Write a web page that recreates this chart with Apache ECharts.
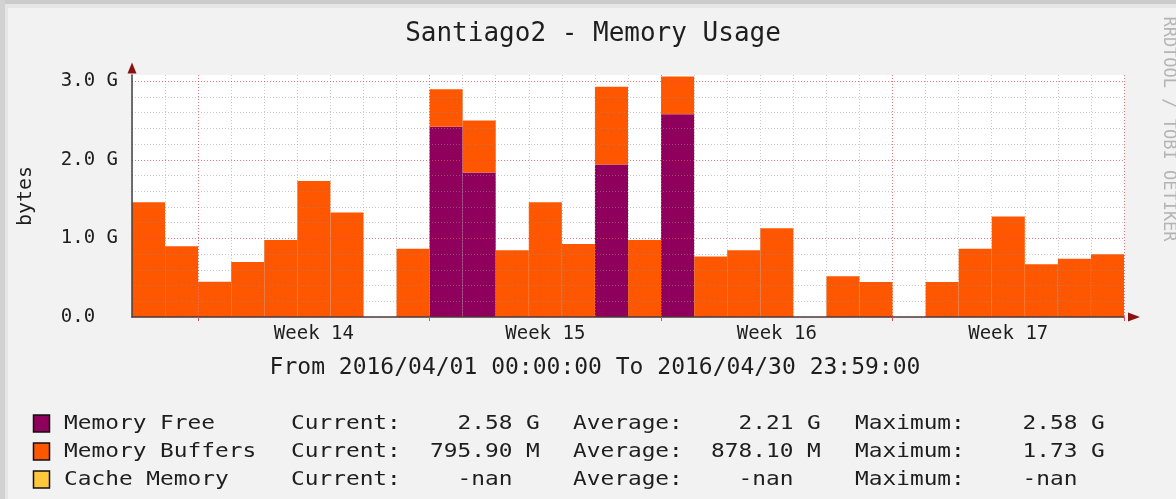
<!DOCTYPE html>
<html>
<head>
<meta charset="utf-8">
<title>Santiago2 - Memory Usage</title>
<script src="https://cdn.jsdelivr.net/npm/echarts@6/dist/echarts.min.js"></script>
<style>
html, body { margin: 0; padding: 0; background: #f2f2f2; }
#chart { width: 1176px; height: 499px; }
</style>
</head>
<body>
<div id="chart"></div>
<script>
// one value per day, in G
const days = [
    '04/01', '04/02', '04/03', '04/04', '04/05', '04/06', '04/07', '04/08', '04/09', '04/10',
    '04/11', '04/12', '04/13', '04/14', '04/15', '04/16', '04/17', '04/18', '04/19', '04/20',
    '04/21', '04/22', '04/23', '04/24', '04/25', '04/26', '04/27', '04/28', '04/29', '04/30'
];
const memoryFree = [
    null, null, null, null, null, null, null, null, null, 2.42,
    1.84, null, null, null, 1.94, null, 2.58, null, null, null,
    null, null, null, null, null, null, null, null, null, null
];
const memoryBuffers = [
    1.46, 0.90, 0.45, 0.70, 0.98, 1.73, 1.33, null, 0.87, 0.48,
    0.66, 0.85, 1.46, 0.93, 0.99, 0.98, 0.48, 0.77, 0.85, 1.13,
    null, 0.52, 0.445, null, 0.445, 0.87, 1.28, 0.67, 0.74, 0.80
];
// week labels sit in the middle of each week, red grid lines at week starts
const weekDays = ['04/06', '04/13', '04/20', '04/27'];
const weekLabels = ['Week 14', 'Week 15', 'Week 16', 'Week 17'];
const majorDays = ['04/03', '04/10', '04/17', '04/24'];
const yTicks = [0, 1, 2, 3];
const yTickLabels = ['0.0  ', '1.0 G', '2.0 G', '3.0 G'];

// legend table
const legendNames = ['Memory Free', 'Memory Buffers', 'Cache Memory'];
const currentVals = ['  2.58 G', '795.90 M', '  -nan'];
const averageVals = ['  2.21 G', '878.10 M', '  -nan'];
const maximumVals = ['  2.58 G', '  1.73 G', '  -nan'];

const colors = {
    free: '#8F005C',
    buffers: '#FF5700',
    cache: '#FFC73B',
};
const legendColors = [colors.free, colors.buffers, colors.cache];
const mono = "'DejaVu Sans Mono', monospace";
const textColor = '#1e1e1e';
const minorGrid = 'rgba(150,150,150,0.5)';
const majorGrid = 'rgba(255,40,40,0.5)';

const chartDom = document.getElementById('chart');
const myChart = echarts.init(chartDom);

// texts drawn as graphic elements
const graphics = [
    { type: 'rect', shape: { x: 0, y: 0, width: 1176, height: 4 }, style: { fill: '#cbcbcb' } },
    { type: 'rect', shape: { x: 0, y: 0, width: 5, height: 499 }, style: { fill: '#d2d2d2' } },
    { type: 'rect', shape: { x: 5, y: 4, width: 1171, height: 4 }, style: { fill: '#e6e6e6' } },
    { type: 'rect', shape: { x: 5, y: 4, width: 3, height: 495 }, style: { fill: '#e6e6e6' } },
    {
        type: 'text', x: 593, y: 34,
        style: { text: 'Santiago2 - Memory Usage', fontFamily: mono, fontSize: 26, fill: textColor, align: 'center', verticalAlign: 'middle' }
    },
    {
        type: 'text', x: 595, y: 368,
        style: { text: 'From 2016/04/01 00:00:00 To 2016/04/30 23:59:00', fontFamily: mono, fontSize: 23, fill: textColor, align: 'center', verticalAlign: 'middle' }
    },
    {
        type: 'text', x: 1168, y: 129, rotation: -Math.PI / 2,
        style: { text: 'RRDTOOL / TOBI OETIKER', fontFamily: mono, fontSize: 17, fill: '#b4b4b4', align: 'center', verticalAlign: 'middle' }
    },
];

const rowY = [424, 452, 480];
const legendText = (x, y, text) => ({
    type: 'text', x: x, y: y, scaleX: 1.2,
    style: { text: text, fontFamily: mono, fontSize: 19, fill: textColor, verticalAlign: 'middle' }
});
legendNames.forEach((name, i) => {
    const y = rowY[i];
    graphics.push({
        type: 'rect', shape: { x: 33.5, y: y - 9, width: 16, height: 17 },
        style: { fill: legendColors[i], stroke: '#111', lineWidth: 1.5 }
    });
    graphics.push(legendText(64, y, name));
    graphics.push(legendText(291, y, 'Current:'));
    graphics.push(legendText(430, y, currentVals[i]));
    graphics.push(legendText(573, y, 'Average:'));
    graphics.push(legendText(711, y, averageVals[i]));
    graphics.push(legendText(855, y, 'Maximum:'));
    graphics.push(legendText(995, y, maximumVals[i]));
});

const option = {
    animation: false,
    backgroundColor: '#f2f2f2',
    grid: {
        left: 132,
        right: 52,
        top: 75,
        bottom: 182,
        show: true,
        backgroundColor: '#ffffff',
        borderWidth: 0,
    },
    xAxis: [
        {
            type: 'category',
            data: days,
            position: 'bottom',
            boundaryGap: true,
            z: 3,
            axisLine: { lineStyle: { color: '#404040', width: 1.5 } },
            axisTick: { show: false },
            axisLabel: {
                interval: (i, v) => weekDays.includes(v),
                formatter: (v) => weekLabels[weekDays.indexOf(v)],
                fontFamily: mono,
                fontSize: 19,
                color: textColor,
                margin: 8,
            },
            splitLine: {
                show: true,
                interval: 0,
                lineStyle: { color: minorGrid, type: [1, 2], width: 1 },
            },
        },
        {
            type: 'category',
            data: days,
            position: 'bottom',
            boundaryGap: true,
            z: 4,
            axisLine: {
                show: true,
                symbol: ['none', 'triangle'],
                symbolSize: [9, 12],
                symbolOffset: [0, 10],
                lineStyle: { color: '#8b1010', width: 0 },
            },
            axisTick: {
                show: true,
                interval: (i, v) => majorDays.includes(v),
                length: 4,
                lineStyle: { color: '#e05050' },
            },
            axisLabel: { show: false },
            splitLine: {
                show: true,
                interval: (i, v) => majorDays.includes(v),
                lineStyle: { color: majorGrid, type: [1, 2], width: 1 },
            },
        },
    ],
    yAxis: [
        {
            type: 'value',
            min: 0,
            max: 3.08,
            interval: 1,
            position: 'left',
            z: 4,
            name: 'bytes',
            nameLocation: 'middle',
            nameGap: 96,
            nameRotate: 90,
            nameTextStyle: { fontFamily: mono, fontSize: 20, color: textColor },
            axisLine: { show: true, lineStyle: { color: '#404040', width: 1.5 } },
            axisTick: { show: false },
            axisLabel: {
                formatter: (v) => {
                    const i = yTicks.indexOf(v);
                    return i < 0 ? '' : yTickLabels[i];
                },
                fontFamily: mono,
                fontSize: 19,
                color: textColor,
                margin: 14,
            },
            splitLine: {
                show: true,
                showMaxLine: false,
                lineStyle: { color: majorGrid, type: [1, 2], width: 1 },
            },
        },
        {
            type: 'value',
            min: 0,
            max: 3.08,
            interval: 0.2,
            position: 'left',
            z: 3,
            axisLine: {
                show: true,
                symbol: ['none', 'triangle'],
                symbolSize: [9, 11],
                symbolOffset: [0, 7],
                lineStyle: { color: '#8b1010', width: 0 },
            },
            axisTick: { show: false },
            axisLabel: { show: false },
            splitLine: {
                show: true,
                showMaxLine: false,
                lineStyle: { color: minorGrid, type: [1, 2], width: 1 },
            },
        },
    ],
    series: [
        {
            name: 'Memory Free',
            type: 'bar',
            stack: 'mem',
            data: memoryFree,
            barCategoryGap: '0%',
            itemStyle: { color: colors.free },
        },
        {
            name: 'Memory Buffers',
            type: 'bar',
            stack: 'mem',
            data: memoryBuffers,
            barCategoryGap: '0%',
            itemStyle: { color: colors.buffers },
        },
    ],
    graphic: graphics,
};

myChart.setOption(option);
</script>
</body>
</html>
